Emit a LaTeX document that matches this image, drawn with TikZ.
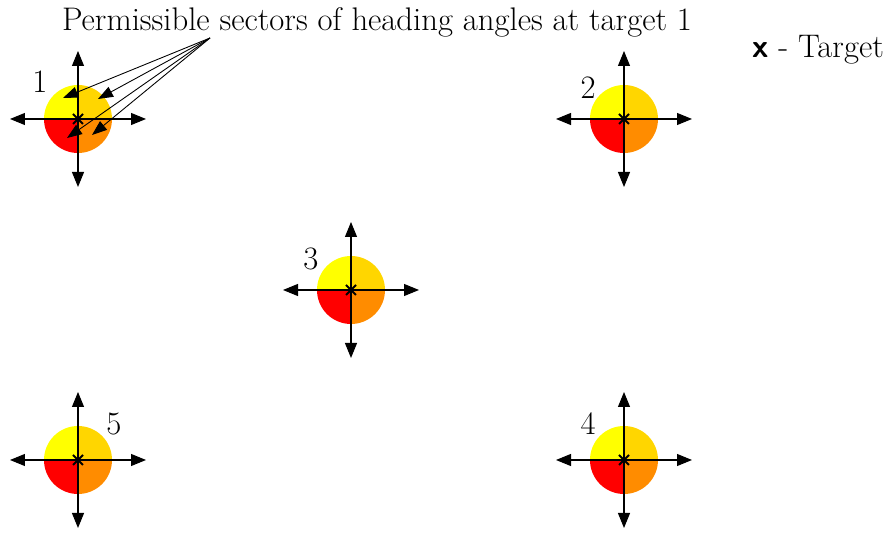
\documentclass[tikz,border=0pt]{standalone}
\usepackage{amsmath}
\usepackage{tikz}
\usetikzlibrary{arrows.meta,positioning}
\definecolor{secA}{RGB}{255,255,0}
\definecolor{secB}{RGB}{255,214,0}
\definecolor{secC}{RGB}{255,0,0}
\definecolor{secD}{RGB}{255,140,0}
\tikzset{
  ax/.style={-{Triangle[length=3mm,width=2.4mm]}, line width=0.6pt},
  pt/.style={-{Triangle[length=3mm,width=2.2mm]}, line width=0.5pt},
  crs/.style={line width=1.1pt},
  lbl/.style={font=\fontsize{18.6}{22}\selectfont, inner sep=0pt},
  target/.pic={
    \fill[secA] (0,0) -- (90:0.68) arc (90:180:0.68) -- cycle;
    \fill[secB] (0,0) -- (0:0.68) arc (0:90:0.68) -- cycle;
    \fill[secC] (0,0) -- (180:0.68) arc (180:270:0.68) -- cycle;
    \fill[secD] (0,0) -- (270:0.68) arc (270:360:0.68) -- cycle;
    \coordinate (-c) at (0,0);
    \coordinate (-e) at (1.36,0);  \coordinate (-w) at (-1.36,0);
    \coordinate (-n) at (0,1.36);  \coordinate (-s) at (0,-1.36);
    \draw[ax] (-c) -- (-e); \draw[ax] (-c) -- (-w);
    \draw[ax] (-c) -- (-n); \draw[ax] (-c) -- (-s);
    \draw[crs] (-0.1,-0.1) -- (0.1,0.1); \draw[crs] (-0.1,0.1) -- (0.1,-0.1);
  }
}

\begin{document}
\begin{tikzpicture}
\useasboundingbox (0,0) rectangle (17.74,10.68);
\pic (t1) at (1.56,8.30)  {target};
\pic (t2) at (12.48,8.30) {target};
\pic (t3) at (7.02,4.88)  {target};
\pic (t4) at (12.48,1.48) {target};
\pic (t5) at (1.56,1.48)  {target};
\node[lbl] (n1) at (0.80,9.04)  {1};
\node[lbl] (n2) at (11.76,8.92) {2};
\node[lbl] (n3) at (6.22,5.50)  {3};
\node[lbl] (n4) at (11.76,2.20) {4};
\node[lbl] (n5) at (2.28,2.20)  {5};
\node[lbl] (title) at (7.54,10.24) {Permissible sectors of heading angles at target 1};
\node[lbl] (key) at (16.36,9.68) {\textsf{\bfseries x} - Target};
% pointers into the sectors of target 1
\coordinate (src) at (4.20,9.92);
\coordinate (qa) at (1.26,8.72);
\coordinate (qb) at (1.96,8.70);
\coordinate (qc) at (1.34,7.92);
\coordinate (qd) at (1.84,7.98);
\draw[pt] (src) -- (qa); \draw[pt] (src) -- (qb);
\draw[pt] (src) -- (qc); \draw[pt] (src) -- (qd);
\end{tikzpicture}
\end{document}
